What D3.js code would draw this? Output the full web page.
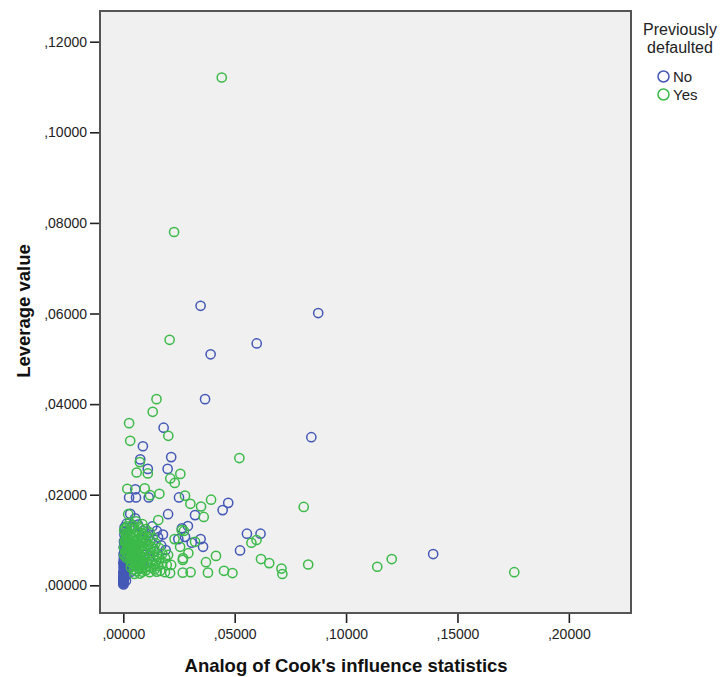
<!DOCTYPE html>
<html>
<head>
<meta charset="utf-8">
<script src="https://cdn.jsdelivr.net/npm/d3@7"></script>
<style>
  html, body { margin: 0; padding: 0; background: #ffffff; }
  svg { display: block; font-family: "Liberation Sans", Arial, sans-serif; }
</style>
</head>
<body>
<svg id="chart" width="720" height="677"></svg>
<script>
// Groups of the legend
const groups = ["No", "Yes"];
const groupColors = ["#4458b6", "#3cba49"];

// Axis ticks
const xTicks = [0, 0.05, 0.10, 0.15, 0.20];
const yTicks = [0, 0.02, 0.04, 0.06, 0.08, 0.10, 0.12];

// Previously defaulted = No : [Cook's analog, leverage]
const noPoints = [
  [0.0347, 0.0617], [0.0875, 0.0601], [0.0599, 0.0534], [0.0392, 0.0510],
  [0.0367, 0.0411], [0.0844, 0.0327], [0.0181, 0.0348], [0.0088, 0.0307],
  [0.0215, 0.0283], [0.0076, 0.0278], [0.0199, 0.0257], [0.0110, 0.0257],
  [0.0054, 0.0212], [0.0026, 0.0194], [0.0057, 0.0194], [0.0114, 0.0194],
  [0.0250, 0.0194], [0.0471, 0.0182], [0.0446, 0.0166], [0.0201, 0.0157],
  [0.0053, 0.0148], [0.0290, 0.0131], [0.0555, 0.0114], [0.0616, 0.0114],
  [0.0347, 0.0102], [0.0358, 0.0085], [0.0524, 0.0077], [0.1391, 0.0069],
  [0.0247, 0.0102], [0.0307, 0.0094], [0.0277, 0.0107], [0.0263, 0.0126],
  [0.0322, 0.0155], [0.0031, 0.0158],
  // low-influence column
  [0.0000, 0.0004], [0.0001, 0.0008], [0.0000, 0.0012], [0.0002, 0.0016],
  [0.0001, 0.0020], [0.0003, 0.0024], [0.0000, 0.0028], [0.0002, 0.0032],
  [0.0004, 0.0036], [0.0001, 0.0040], [0.0003, 0.0045], [0.0000, 0.0050],
  [0.0005, 0.0054], [0.0002, 0.0058], [0.0006, 0.0063], [0.0001, 0.0068],
  [0.0004, 0.0073], [0.0008, 0.0078], [0.0002, 0.0084], [0.0007, 0.0090],
  [0.0003, 0.0097], [0.0010, 0.0104], [0.0005, 0.0112], [0.0012, 0.0120],
  [0.0006, 0.0128], [0.0015, 0.0136], [0.0001, 0.0002], [0.0000, 0.0006],
  [0.0001, 0.0010], [0.0002, 0.0014], [0.0000, 0.0018], [0.0008, 0.0030],
  [0.0010, 0.0042], [0.0007, 0.0048], [0.0013, 0.0022], [0.0012, 0.0010],
  [0.0014, 0.0035], [0.0011, 0.0058], [0.0016, 0.0067],
  // inside the main cluster
  [0.0040, 0.0128], [0.0065, 0.0134], [0.0088, 0.0120], [0.0105, 0.0110],
  [0.0122, 0.0098], [0.0030, 0.0086], [0.0058, 0.0077], [0.0094, 0.0067],
  [0.0115, 0.0058], [0.0140, 0.0075], [0.0156, 0.0106], [0.0170, 0.0088],
  [0.0045, 0.0060], [0.0082, 0.0046], [0.0020, 0.0118], [0.0130, 0.0130],
  [0.0035, 0.0030], [0.0150, 0.0120], [0.0178, 0.0112], [0.0190, 0.0078]
];

// Previously defaulted = Yes : [Cook's analog, leverage]
const yesPoints = [
  [0.0442, 0.1121], [0.0228, 0.0780], [0.0208, 0.0542], [0.0149, 0.0411],
  [0.0132, 0.0383], [0.0026, 0.0358], [0.0202, 0.0330], [0.0031, 0.0319],
  [0.0521, 0.0281], [0.0074, 0.0272], [0.0060, 0.0249], [0.0110, 0.0247],
  [0.0256, 0.0246], [0.0211, 0.0236], [0.0231, 0.0226], [0.0018, 0.0213],
  [0.0096, 0.0214], [0.0162, 0.0202], [0.0120, 0.0199], [0.0277, 0.0198],
  [0.0394, 0.0189], [0.0301, 0.0180], [0.0349, 0.0174], [0.0810, 0.0173],
  [0.0361, 0.0151], [0.0272, 0.0120], [0.0322, 0.0096], [0.0575, 0.0094],
  [0.0598, 0.0100], [0.0292, 0.0071], [0.0416, 0.0065], [0.0371, 0.0051],
  [0.0618, 0.0058], [0.0655, 0.0049], [0.0710, 0.0037], [0.0714, 0.0025],
  [0.0830, 0.0046], [0.1140, 0.0041], [0.1205, 0.0058], [0.1755, 0.0029],
  [0.0267, 0.0028], [0.0302, 0.0029], [0.0380, 0.0028], [0.0452, 0.0032],
  [0.0490, 0.0027], [0.0022, 0.0157], [0.0157, 0.0144], [0.0262, 0.0122],
  [0.0210, 0.0027], [0.0267, 0.0056], [0.0255, 0.0085], [0.0268, 0.0060],
  [0.0201, 0.0067], [0.0187, 0.0029], [0.0230, 0.0102], [0.0215, 0.0045],
  // main cluster
  [0.0004, 0.0121], [0.0012, 0.0108], [0.0020, 0.0117], [0.0031, 0.0112],
  [0.0043, 0.0125], [0.0052, 0.0109], [0.0065, 0.0118], [0.0078, 0.0104],
  [0.0090, 0.0113], [0.0104, 0.0098], [0.0006, 0.0097], [0.0015, 0.0091],
  [0.0024, 0.0101], [0.0035, 0.0094], [0.0046, 0.0088], [0.0057, 0.0099],
  [0.0069, 0.0092], [0.0082, 0.0087], [0.0095, 0.0081], [0.0113, 0.0089],
  [0.0003, 0.0083], [0.0010, 0.0076], [0.0019, 0.0085], [0.0028, 0.0079],
  [0.0038, 0.0072], [0.0049, 0.0081], [0.0061, 0.0074], [0.0073, 0.0069],
  [0.0087, 0.0075], [0.0121, 0.0072], [0.0005, 0.0066], [0.0014, 0.0061],
  [0.0023, 0.0069], [0.0033, 0.0063], [0.0044, 0.0057], [0.0055, 0.0065],
  [0.0067, 0.0058], [0.0080, 0.0052], [0.0098, 0.0061], [0.0134, 0.0063],
  [0.0039, 0.0049], [0.0051, 0.0043], [0.0063, 0.0048], [0.0076, 0.0041],
  [0.0092, 0.0045], [0.0108, 0.0050], [0.0147, 0.0054], [0.0034, 0.0040],
  [0.0047, 0.0035], [0.0059, 0.0031], [0.0071, 0.0036], [0.0085, 0.0030],
  [0.0101, 0.0033], [0.0125, 0.0039], [0.0158, 0.0043], [0.0016, 0.0130],
  [0.0029, 0.0138], [0.0041, 0.0133], [0.0058, 0.0141], [0.0072, 0.0128],
  [0.0086, 0.0135], [0.0100, 0.0124], [0.0118, 0.0117], [0.0132, 0.0105],
  [0.0145, 0.0093], [0.0162, 0.0082], [0.0175, 0.0070], [0.0188, 0.0060],
  [0.0140, 0.0035], [0.0166, 0.0032], [0.0118, 0.0029], [0.0050, 0.0025],
  [0.0075, 0.0026], [0.0195, 0.0045], [0.0025, 0.0090], [0.0040, 0.0105],
  [0.0062, 0.0087], [0.0018, 0.0066], [0.0048, 0.0068], [0.0032, 0.0052],
  [0.0070, 0.0080], [0.0011, 0.0099], [0.0056, 0.0116], [0.0080, 0.0097],
  [0.0021, 0.0104], [0.0037, 0.0084], [0.0053, 0.0091], [0.0066, 0.0103],
  [0.0083, 0.0110], [0.0096, 0.0094], [0.0109, 0.0079], [0.0126, 0.0085],
  [0.0139, 0.0080], [0.0152, 0.0068], [0.0128, 0.0052], [0.0115, 0.0066],
  [0.0103, 0.0071], [0.0089, 0.0060], [0.0074, 0.0053], [0.0060, 0.0057],
  [0.0042, 0.0078], [0.0027, 0.0095], [0.0013, 0.0113], [0.0008, 0.0126],
  [0.0049, 0.0096], [0.0064, 0.0066], [0.0093, 0.0103], [0.0112, 0.0106],
  [0.0143, 0.0046], [0.0160, 0.0058], [0.0172, 0.0048], [0.0097, 0.0040],
  [0.0083, 0.0037], [0.0068, 0.0044], [0.0054, 0.0050], [0.0036, 0.0058],
  [0.0029, 0.0108], [0.0017, 0.0075], [0.0150, 0.0030], [0.0113, 0.0042]
];

const series = [noPoints, yesPoints];

const svg = d3.select("#chart");
const plot = { left: 100, right: 631, top: 11, bottom: 613 };

const x = d3.scaleLinear().domain([-0.01046, 0.2279]).range([plot.left, plot.right]);
const y = d3.scaleLinear().domain([-0.00611, 0.12678]).range([plot.bottom, plot.top]);

const fmt = v => d3.format(".5f")(v).replace(/^0\./, ",");

// plot background
svg.append("rect")
  .attr("x", plot.left).attr("y", plot.top)
  .attr("width", plot.right - plot.left).attr("height", plot.bottom - plot.top)
  .attr("fill", "#f0f0f0");

// points
const pts = svg.append("g");
series.forEach((pts_, i) => {
  pts.append("g").selectAll("circle")
    .data(pts_)
    .join("circle")
    .attr("cx", d => x(d[0]))
    .attr("cy", d => y(d[1]))
    .attr("r", 4.6)
    .attr("fill", "none")
    .attr("stroke", groupColors[i])
    .attr("stroke-width", 1.5);
});

// frame
svg.append("rect")
  .attr("x", plot.left).attr("y", plot.top)
  .attr("width", plot.right - plot.left).attr("height", plot.bottom - plot.top)
  .attr("fill", "none").attr("stroke", "#555555").attr("stroke-width", 2);

// axes
const xAxis = d3.axisBottom(x).tickValues(xTicks).tickFormat(fmt).tickSize(9).tickPadding(6);
const yAxis = d3.axisLeft(y).tickValues(yTicks).tickFormat(fmt).tickSize(9).tickPadding(3);

const gx = svg.append("g").attr("transform", `translate(0,${plot.bottom + 1})`).call(xAxis);
const gy = svg.append("g").attr("transform", `translate(${plot.left - 1},0)`).call(yAxis);
[gx, gy].forEach(g => {
  g.select(".domain").remove();
  g.selectAll(".tick line").attr("stroke", "#222").attr("stroke-width", 1.6);
  g.selectAll(".tick text").attr("fill", "#222").style("font-size", "14px")
    .style("font-family", "'Liberation Sans', Arial, sans-serif");
});

// axis titles
svg.append("text")
  .attr("x", (x(0) + x(0.2)) / 2).attr("y", 672)
  .attr("text-anchor", "middle")
  .style("font-size", "18.5px").style("font-weight", "bold").attr("fill", "#111")
  .text("Analog of Cook's influence statistics");

svg.append("text")
  .attr("transform", `translate(30,311) rotate(-90)`)
  .attr("text-anchor", "middle")
  .style("font-size", "18.5px").style("font-weight", "bold").attr("fill", "#111")
  .text("Leverage value");

// legend
const legend = svg.append("g");
legend.append("text").attr("x", 680).attr("y", 35).attr("text-anchor", "middle")
  .style("font-size", "16px").attr("fill", "#222").text("Previously");
legend.append("text").attr("x", 680).attr("y", 53).attr("text-anchor", "middle")
  .style("font-size", "16px").attr("fill", "#222").text("defaulted");
groups.forEach((g, i) => {
  const cy = 76.5 + i * 18;
  legend.append("circle").attr("cx", 663.5).attr("cy", cy).attr("r", 5.5)
    .attr("fill", "none").attr("stroke", groupColors[i]).attr("stroke-width", 1.5);
  legend.append("text").attr("x", 673).attr("y", cy + 5.5)
    .style("font-size", "15px").attr("fill", "#222").text(g);
});
</script>
</body>
</html>
